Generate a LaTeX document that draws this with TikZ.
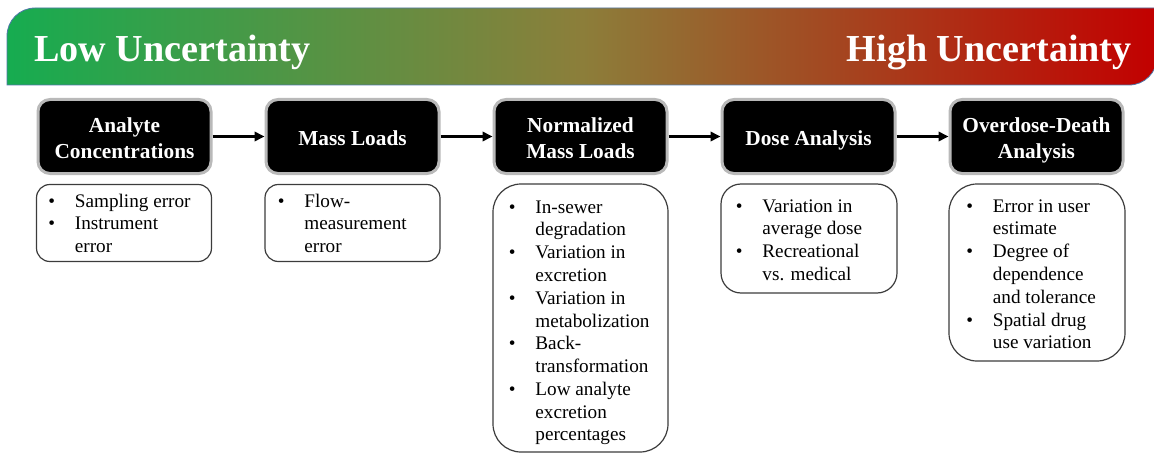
\documentclass[tikz,border=0pt]{standalone}
\usepackage{fontspec}
\setmainfont{Liberation Serif}
\usetikzlibrary{arrows.meta}
\definecolor{gL}{RGB}{22,172,80}
\definecolor{gM}{RGB}{140,126,58}
\definecolor{gR}{RGB}{194,0,0}
\definecolor{bannerline}{RGB}{80,120,170}
\definecolor{glow}{RGB}{185,185,185}
\definecolor{noteline}{RGB}{60,60,60}
\tikzset{
  title/.style={text=white, font=\bfseries\fontsize{28.6}{32}\selectfont, inner sep=0pt},
  stage/.style={rectangle, rounded corners=9pt, fill=black, draw=glow, line width=2.25pt,
    minimum width=129.75pt, minimum height=55.5pt, text=white, align=center,
    font=\bfseries\fontsize{16}{19.5}\selectfont, inner sep=0pt},
  note/.style={rectangle, draw=noteline, line width=0.9pt, fill=white, inner sep=0pt},
  arr/.style={line width=1.9pt, -{Triangle[length=7.5pt,width=7pt]}},
  items/.style={anchor=base west, inner sep=0pt, font=\fontsize{14.4}{17.1}\selectfont}
}
\newcommand{\bl}{\textbullet}
\newcommand{\lab}[1]{\rule{0pt}{12.8pt}\smash{#1}}
\newcommand{\labb}[1]{\smash{#1}}
\begin{document}
\begin{tikzpicture}[x=0.75pt,y=-0.75pt]
\useasboundingbox (0,0) rectangle (1154,453);
\begin{scope}
\clip (0,0) rectangle (1154,453);
% banner
\shade[left color=gL, right color=gR, middle color=gM, draw=bannerline, line width=0.6pt]
  (7,85) -- (7,36) .. controls (7,20.5) and (19.5,8) .. (35,8) -- (1157,8) -- (1157,57)
  .. controls (1157,72.5) and (1144.5,85) .. (1129,85) -- cycle;
\node[title, anchor=base west] (low) at (34,62) {Low Uncertainty};
\node[title, anchor=base east] (high) at (1132,62) {High Uncertainty};

% stages
\node[stage] (s1) at (124.5,136.5) {\lab{Analyte}\\\labb{Concentrations}};
\node[stage] (s2) at (352.5,136.5) {\lab{Mass Loads}};
\node[stage] (s3) at (580.5,136.5) {\lab{Normalized}\\\labb{Mass Loads}};
\node[stage] (s4) at (808.5,136.5) {\lab{Dose Analysis}};
\node[stage] (s5) at (1036.5,136.5) {\lab{Overdose-Death}\\\labb{Analysis}};
\draw[arr] (s1) -- (s2);
\draw[arr] (s2) -- (s3);
\draw[arr] (s3) -- (s4);
\draw[arr] (s4) -- (s5);

% notes
\node[note, rounded corners=10pt, minimum width=131.25pt, minimum height=57.75pt] (n1) at (124,223) {};
\node[note, rounded corners=10pt, minimum width=131.25pt, minimum height=57.75pt] (n2) at (352.5,223) {};
\node[note, rounded corners=21pt, minimum width=131.25pt, minimum height=201pt] (n3) at (580.5,318) {};
\node[note, rounded corners=15pt, minimum width=132pt, minimum height=81.75pt] (n4) at (809,238.5) {};
\node[note, rounded corners=21pt, minimum width=132pt, minimum height=132.75pt] (n5) at (1037,272.5) {};

\node[items] (t1) at (48,207) {\begin{tabular}[t]{@{}p{20pt}@{}l@{}}
\bl & Sampling error\\ \bl & Instrument\\ & error\end{tabular}};
\node[items] (t2) at (277.5,207) {\begin{tabular}[t]{@{}p{20pt}@{}l@{}}
\bl & Flow-\\ & measurement\\ & error\end{tabular}};
\node[items] (t3) at (508.5,213) {\begin{tabular}[t]{@{}p{20pt}@{}l@{}}
\bl & In-sewer\\ & degradation\\ \bl & Variation in\\ & excretion\\ \bl & Variation in\\ & metabolization\\ \bl & Back-\\ & transformation\\ \bl & Low analyte\\ & excretion\\ & percentages\end{tabular}};
\node[items] (t4) at (735.5,212) {\begin{tabular}[t]{@{}p{20pt}@{}l@{}}
\bl & Variation in\\ & average dose\\ \bl & Recreational\\ & vs. medical\end{tabular}};
\node[items] (t5) at (966,212) {\begin{tabular}[t]{@{}p{20pt}@{}l@{}}
\bl & Error in user\\ & estimate\\ \bl & Degree of\\ & dependence\\ & and tolerance\\ \bl & Spatial drug\\ & use variation\end{tabular}};
\end{scope}
\end{tikzpicture}
\end{document}
